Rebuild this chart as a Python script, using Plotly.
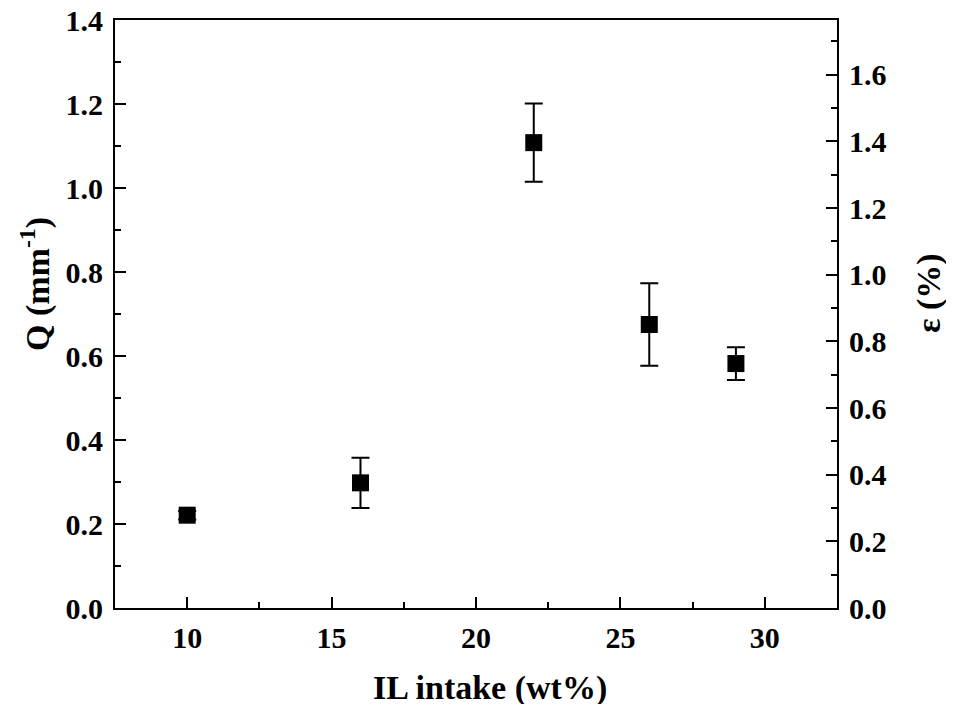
import plotly.graph_objects as go

il_intake = [10, 16, 22, 26, 29]
q_values = [0.221, 0.298, 1.108, 0.675, 0.582]
q_errors = [0.010, 0.060, 0.093, 0.098, 0.039]

x_title = "IL intake (wt%)"
y_title = "Q (mm<sup>-1</sup>)"
y2_title = "ε (%)"

FONT = "Liberation Serif, Times New Roman, serif"

fig = go.Figure()
fig.add_trace(go.Scatter(
    x=il_intake, y=q_values, mode="markers",
    marker=dict(symbol="square", size=17, color="black"),
    error_y=dict(type="data", array=q_errors, color="black", thickness=2, width=9),
    showlegend=False, hoverinfo="x+y",
))
# empty trace so the right-hand ε axis is drawn
fig.add_trace(go.Scatter(x=[None], y=[None], yaxis="y2", mode="markers",
                         showlegend=False, hoverinfo="skip"))

tickfont = dict(family=FONT, size=30, color="black", weight="bold")
titlefont = dict(family=FONT, size=34, color="black", weight="bold")

common = dict(
    showline=True, linecolor="black", linewidth=2,
    ticks="inside", ticklen=11, tickwidth=2, tickcolor="black",
    showgrid=False, zeroline=False, tickfont=tickfont, automargin=False,
    ticklabeloverflow="allow",
)

# the page body adds an 8px margin, so the figure is sized to fit inside it
fig.update_layout(
    width=938, height=696,
    margin=dict(l=107, r=109, t=12, b=96),
    plot_bgcolor="white", paper_bgcolor="white",
    xaxis=dict(
        range=[7.5, 32.5], dtick=5, tick0=0, mirror=True, ticklabelstandoff=2,
        minor=dict(dtick=2.5, tick0=0, ticks="inside", ticklen=6, tickwidth=2, tickcolor="black"),
        **common,
    ),
    yaxis=dict(
        range=[0, 1.4], dtick=0.2, tick0=0, tickformat=".1f", ticklabelstandoff=4,
        minor=dict(dtick=0.1, tick0=0, ticks="inside", ticklen=6, tickwidth=2, tickcolor="black"),
        **common,
    ),
    yaxis2=dict(
        overlaying="y", side="right",
        range=[0, 1.764], dtick=0.2, tick0=0, tickformat=".1f", ticklabelstandoff=4,
        minor=dict(dtick=0.1, tick0=0, ticks="inside", ticklen=6, tickwidth=2, tickcolor="black"),
        **common,
    ),
    annotations=[
        dict(text=x_title, font=titlefont, xref="paper", yref="paper",
             x=0.5, y=0, xanchor="center", yanchor="middle",
             xshift=14, yshift=-80, showarrow=False),
        dict(text=y_title, font=titlefont, xref="paper", yref="paper",
             x=0, y=0.5, xanchor="center", yanchor="middle", textangle=-90,
             xshift=-80, yshift=30, showarrow=False),
        dict(text=y2_title, font=titlefont, xref="paper", yref="paper",
             x=1, y=0.5, xanchor="center", yanchor="middle", textangle=-90,
             xshift=92, yshift=21, showarrow=False),
    ],
)

fig.write_html("out.html")
